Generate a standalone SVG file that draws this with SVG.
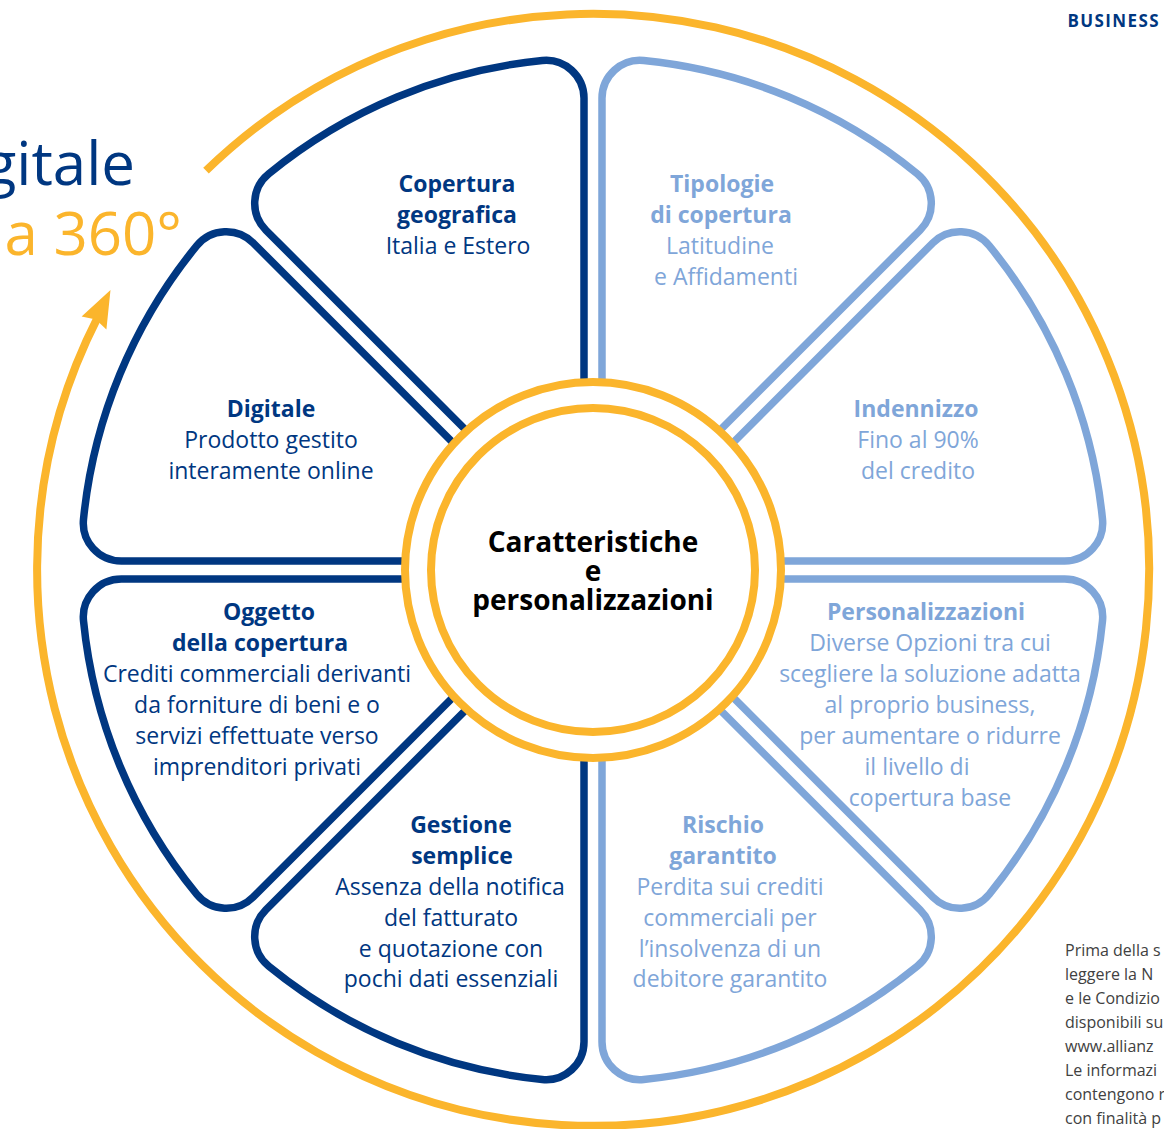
<svg xmlns="http://www.w3.org/2000/svg" xmlns:xlink="http://www.w3.org/1999/xlink" width="1164" height="1129" viewBox="0 0 1164 1129">
<style>
  .dk{fill:none;stroke:#003781;stroke-width:7.5}
  .lt{fill:none;stroke:#7FA6D9;stroke-width:7.5}
  .or{fill:none;stroke:#FBB52C;stroke-width:8}
  text{font-family:"Open Sans","Noto Sans","Liberation Sans",sans-serif;text-anchor:middle}
  .h{font-size:23px;font-weight:700}
  .b{font-size:23px;font-weight:400}
  .tdk{fill:#003781}
  .tlt{fill:#7FA6D9}
  .ctr{font-size:28px;font-weight:700;fill:#000}
  .foot{font-size:16px;fill:#414141;text-anchor:start}
</style>
<defs>
  <path id="petal" d="M 0 -23.52 L 172.19 -439.21 A 38 38 0 0 0 148.07 -490.14 A 512 512 0 0 0 -148.07 -490.14 A 38 38 0 0 0 -172.19 -439.21 Z" stroke-linejoin="round"/>
</defs>
<rect width="1164" height="1129" fill="#fff"/>

<g id="connectors">
  <path class="or" d="M 206.0 170.7 A 556 556 0 1 1 97.6 317.6"/>
  <polygon fill="#FBB52C" points="110.5,290 106.4,329.6 95.9,319.5 81.6,316.4"/>
</g>

<g id="heading">
  <text x="135" y="185" style="font-size:60px;fill:#003781;text-anchor:end">gitale</text>
  <text x="182" y="255" style="font-size:60px;fill:#FBB52C;text-anchor:end">a 360°</text>
  <text x="1160" y="27" style="font-size:17px;font-weight:700;fill:#003781;text-anchor:end;letter-spacing:1.4px">BUSINESS</text>
</g>

<g id="petal-copertura">
  <use href="#petal" class="dk" transform="translate(593,570) rotate(-22.5)"/>
  <text class="h tdk" x="457" y="192">Copertura</text>
  <text class="h tdk" x="457" y="223">geografica</text>
  <text class="b tdk" x="458" y="254">Italia e Estero</text>
</g>

<g id="petal-tipologie">
  <use href="#petal" class="lt" transform="translate(593,570) rotate(22.5)"/>
  <text class="h tlt" x="722" y="192">Tipologie</text>
  <text class="h tlt" x="721" y="223">di copertura</text>
  <text class="b tlt" x="720" y="254">Latitudine</text>
  <text class="b tlt" x="726" y="285">e Affidamenti</text>
</g>

<g id="petal-indennizzo">
  <use href="#petal" class="lt" transform="translate(593,570) rotate(67.5)"/>
  <text class="h tlt" x="916" y="417">Indennizzo</text>
  <text class="b tlt" x="918" y="448">Fino al 90%</text>
  <text class="b tlt" x="918" y="479">del credito</text>
</g>

<g id="petal-personalizzazioni">
  <use href="#petal" class="lt" transform="translate(593,570) rotate(112.5)"/>
  <text class="h tlt" x="926" y="620">Personalizzazioni</text>
  <text class="b tlt" x="930" y="651">Diverse Opzioni tra cui</text>
  <text class="b tlt" x="930" y="682">scegliere la soluzione adatta</text>
  <text class="b tlt" x="930" y="713">al proprio business,</text>
  <text class="b tlt" x="930" y="744">per aumentare o ridurre</text>
  <text class="b tlt" x="917" y="775">il livello di</text>
  <text class="b tlt" x="930" y="806">copertura base</text>
</g>

<g id="petal-rischio">
  <use href="#petal" class="lt" transform="translate(593,570) rotate(157.5)"/>
  <text class="h tlt" x="723" y="833">Rischio</text>
  <text class="h tlt" x="723" y="864">garantito</text>
  <text class="b tlt" x="730" y="895">Perdita sui crediti</text>
  <text class="b tlt" x="730" y="926">commerciali per</text>
  <text class="b tlt" x="730" y="957">l’insolvenza di un</text>
  <text class="b tlt" x="730" y="987">debitore garantito</text>
</g>

<g id="petal-gestione">
  <use href="#petal" class="dk" transform="translate(593,570) rotate(202.5)"/>
  <text class="h tdk" x="461" y="833">Gestione</text>
  <text class="h tdk" x="462" y="864">semplice</text>
  <text class="b tdk" x="450" y="895">Assenza della notifica</text>
  <text class="b tdk" x="451" y="926">del fatturato</text>
  <text class="b tdk" x="451" y="957">e quotazione con</text>
  <text class="b tdk" x="451" y="987">pochi dati essenziali</text>
</g>

<g id="petal-oggetto">
  <use href="#petal" class="dk" transform="translate(593,570) rotate(247.5)"/>
  <text class="h tdk" x="269" y="620">Oggetto</text>
  <text class="h tdk" x="260" y="651">della copertura</text>
  <text class="b tdk" x="257" y="682">Crediti commerciali derivanti</text>
  <text class="b tdk" x="257" y="713">da forniture di beni e o</text>
  <text class="b tdk" x="257" y="744">servizi effettuate verso</text>
  <text class="b tdk" x="257" y="775">imprenditori privati</text>
</g>

<g id="petal-digitale">
  <use href="#petal" class="dk" transform="translate(593,570) rotate(-67.5)"/>
  <text class="h tdk" x="271" y="417">Digitale</text>
  <text class="b tdk" x="271" y="448">Prodotto gestito</text>
  <text class="b tdk" x="271" y="479">interamente online</text>
</g>

<g id="center">
  <circle cx="593" cy="570" r="188" fill="#fff" stroke="#FBB52C" stroke-width="8"/>
  <circle cx="593" cy="570" r="162" class="or"/>
  <text class="ctr" x="593" y="552">Caratteristiche</text>
  <text class="ctr" x="593" y="581">e</text>
  <text class="ctr" x="593" y="610">personalizzazioni</text>
</g>

<g id="footnote">
  <text class="foot" x="1065" y="956">Prima della s</text>
  <text class="foot" x="1065" y="980">leggere la N</text>
  <text class="foot" x="1065" y="1004">e le Condizio</text>
  <text class="foot" x="1065" y="1028">disponibili su</text>
  <text class="foot" x="1065" y="1052">www.allianz</text>
  <text class="foot" x="1065" y="1076">Le informazi</text>
  <text class="foot" x="1065" y="1100">contengono r</text>
  <text class="foot" x="1065" y="1124">con finalità p</text>
</g>
</svg>
